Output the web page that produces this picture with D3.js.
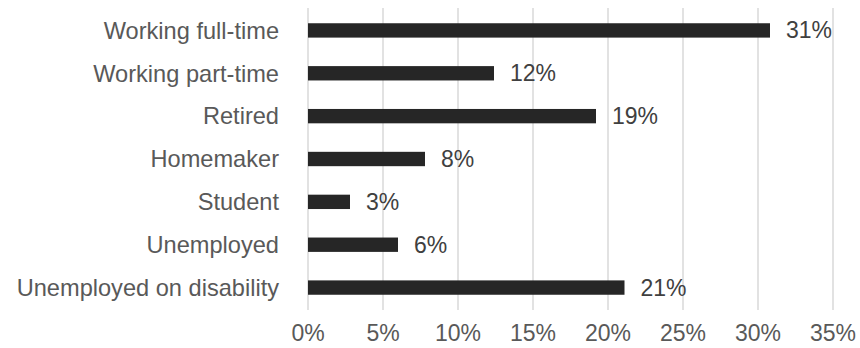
<!DOCTYPE html>
<html><head><meta charset="utf-8">
<script src="https://cdn.jsdelivr.net/npm/d3@7"></script>
<style>
html,body{margin:0;padding:0;background:#fff;}
svg text{font-family:"Liberation Sans",Arial,sans-serif;}
</style></head>
<body><svg id="c" width="860" height="348"></svg>
<script>
const categories = ["Working full-time","Working part-time","Retired","Homemaker","Student","Unemployed","Unemployed on disability"];
const values = [30.8, 12.4, 19.2, 7.8, 2.8, 6.0, 21.1];
const labels = ["31%","12%","19%","8%","3%","6%","21%"];
const ticks = [0,5,10,15,20,25,30,35];

const svg = d3.select("#c");
const plotL = 308, plotR = 833, plotT = 9, plotB = 309;
const x = d3.scaleLinear().domain([0,35]).range([plotL,plotR]);
const y = d3.scaleBand().domain(categories).range([plotT,plotB]).paddingInner(0.665).paddingOuter(0.3325);

// gridlines
svg.append("g").selectAll("line").data(ticks).join("line")
  .attr("x1", d=>x(d)).attr("x2", d=>x(d))
  .attr("y1", plotT-1).attr("y2", plotB+1)
  .attr("stroke", "#d9d9d9").attr("stroke-width", 1.5);

// bars
svg.append("g").selectAll("rect").data(categories).join("rect")
  .attr("x", x(0)).attr("y", d=>y(d))
  .attr("width", (d,i)=>x(values[i])-x(0))
  .attr("height", y.bandwidth())
  .attr("fill", "#262626");

// data labels
svg.append("g").selectAll("text").data(categories).join("text")
  .attr("x", (d,i)=>x(values[i])+16)
  .attr("y", d=>y(d)+y.bandwidth()/2)
  .attr("dy", "0.35em")
  .attr("font-size", 23).attr("fill", "#404040")
  .text((d,i)=>labels[i]);

// category labels
svg.append("g").selectAll("text").data(categories).join("text")
  .attr("x", 279).attr("y", d=>y(d)+y.bandwidth()/2)
  .attr("dy", "0.35em").attr("text-anchor", "end")
  .attr("font-size", 23.6).attr("fill", "#595959")
  .text(d=>d);

// x tick labels
svg.append("g").selectAll("text").data(ticks).join("text")
  .attr("x", d=>x(d)).attr("y", 341)
  .attr("text-anchor", "middle")
  .attr("font-size", 23).attr("fill", "#595959")
  .text(d=>d+"%");
</script></body></html>
